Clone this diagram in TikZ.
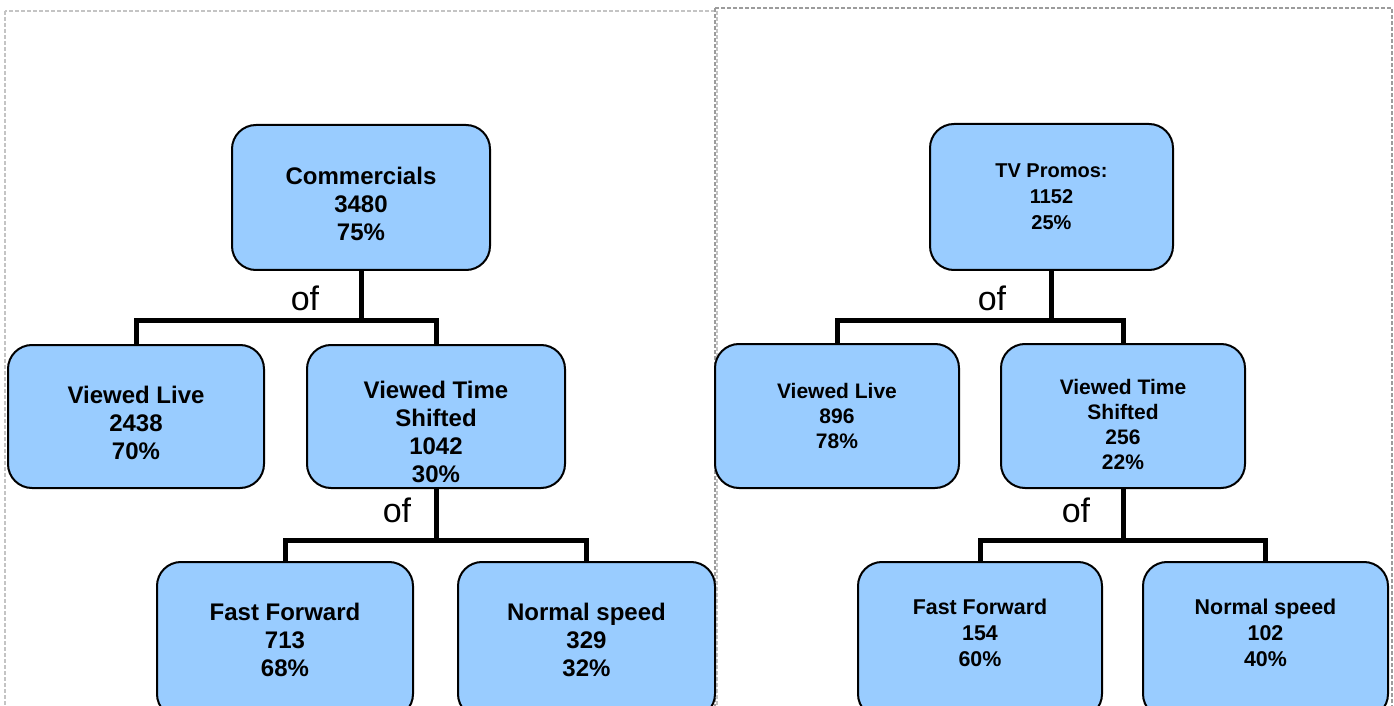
\documentclass[tikz,border=0pt]{standalone}
\usepackage{fontspec}
\setmainfont{Liberation Sans}
\usepackage{tikz}
\definecolor{boxcolorc}{HTML}{99CCFF}
\colorlet{boxcolor}{boxcolorc}
\definecolor{panelcolorl}{HTML}{C4C4C4}
\definecolor{panelcolorr}{HTML}{9C9C9C}
\newcommand{\dropline}[1]{\rule{0pt}{#1}}% taller first line, text sits lower
\tikzstyle{countbox} =[
    draw=black,
    fill=boxcolor,
    line width=1pt,
    rectangle,
    rounded corners=12pt,
    align=center,
    inner sep=2pt
    ]
\tikzstyle{bigbox} =[
    countbox,
    font=\bfseries\fontsize{12pt}{14pt}\selectfont
    ]
\tikzstyle{smallbox} =[
    countbox,
    font=\bfseries\fontsize{10.5pt}{12.5pt}\selectfont
    ]
\tikzstyle{raised} =[
    execute at end node={\rule[-7.5pt]{0pt}{0pt}}
    ]
\tikzstyle{link} =[
    draw=black,
    line width=2.5pt
    ]
\tikzstyle{oflabel} =[
    font=\fontsize{17pt}{19pt}\selectfont,
    inner sep=0pt
    ]
\tikzstyle{panel} =[
    line width=0.6pt,
    dash pattern=on 2pt off 1pt
    ]

\begin{document}
\begin{tikzpicture}[x=0.5pt, y=-0.5pt]
\useasboundingbox (0,0) rectangle (1394,706);
% page frames
\draw[panel, panelcolorl] (5,11) rectangle (717,740);
\draw[panel, panelcolorr] (715,8) rectangle (1392,740);

% commercials
\node[bigbox, minimum width=129pt, minimum height=72.5pt] (com) at (361,197.5) {\dropline{15.5pt}Commercials\\3480\\75\%};
\node[bigbox, minimum width=128pt, minimum height=71.5pt] (live) at (136,416.5) {\dropline{15pt}Viewed Live\\2438\\70\%};
\node[bigbox, minimum width=129pt, minimum height=71.5pt] (shift) at (436,416.5) {\dropline{24pt}Viewed Time\\Shifted\\1042\\30\%};
\node[bigbox, minimum width=128pt, minimum height=78pt] (fast) at (285,640) {Fast Forward\\713\\68\%};
\node[bigbox, minimum width=128.5pt, minimum height=78pt] (normal) at (586.5,640) {Normal speed\\329\\32\%};
\coordinate (comsplit) at (361,320);
\coordinate (shiftsplit) at (436,540);
\draw[link] (com.south) -- (comsplit);
\draw[link] (live.north) |- (comsplit) -| (shift.north);
\draw[link] (shift.south) -- (shiftsplit);
\draw[link] (fast.north) |- (shiftsplit) -| (normal.north);
\node[oflabel] (comof) at (305,298) {of};
\node[oflabel] (shiftof) at (397,510) {of};

% promos
\node[smallbox, font=\bfseries\fontsize{10pt}{13pt}\selectfont, minimum width=121.5pt, minimum height=73pt] (promo) at (1051.5,197) {TV Promos:\\1152\\25\%};
\node[smallbox, minimum width=122pt, minimum height=72pt] (plive) at (837,416) {Viewed Live\\896\\78\%};
\node[smallbox, minimum width=122pt, minimum height=72pt] (pshift) at (1123,416) {\dropline{16.5pt}Viewed Time\\Shifted\\256\\22\%};
\node[smallbox, raised, font=\bfseries\fontsize{10.7pt}{13pt}\selectfont, minimum width=122pt, minimum height=78pt] (pfast) at (980,640) {Fast Forward\\154\\60\%};
\node[smallbox, raised, font=\bfseries\fontsize{10.7pt}{13pt}\selectfont, minimum width=122.5pt, minimum height=78pt] (pnormal) at (1265.5,640) {Normal speed\\102\\40\%};
\coordinate (promosplit) at (1051.5,320);
\coordinate (pshiftsplit) at (1123,540);
\draw[link] (promo.south) -- (promosplit);
\draw[link] (plive.north) |- (promosplit) -| (pshift.north);
\draw[link] (pshift.south) -- (pshiftsplit);
\draw[link] (pfast.north) |- (pshiftsplit) -| (pnormal.north);
\node[oflabel] (promoof) at (992,298) {of};
\node[oflabel] (pshiftof) at (1076,510) {of};
\end{tikzpicture}
\end{document}
